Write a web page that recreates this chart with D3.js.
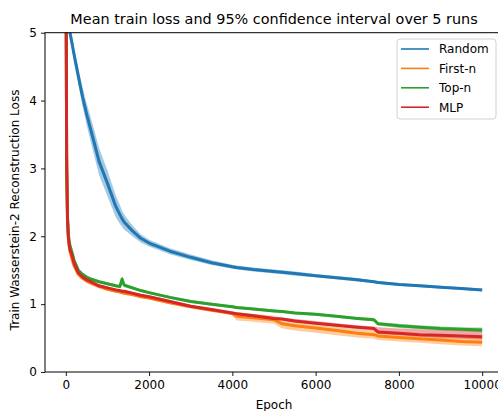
<!DOCTYPE html>
<html><head><meta charset="utf-8">
<script src="https://cdn.jsdelivr.net/npm/d3@7"></script>
<style>body{margin:0;background:#fff}svg{display:block}text{font-family:"DejaVu Sans",sans-serif;fill:#000}</style>
</head><body><svg id="c" width="498" height="411"></svg>
<script>
const epochs = [0,20,40,60,80,100,150,200,300,400,500,600,800,1000,1200,1300,1350,1400,1600,1800,2000,2500,3000,3500,4000,4100,4500,5000,5200,5500,6000,6500,7000,7400,7500,8000,8500,9000,9500,10000];
const seriesNames = ["Random","First-n","Top-n","MLP"];
const colors = ["#1f77b4","#ff7f0e","#2ca02c","#d62728"];
const randomMean = [5.35,5.3,5.23,5.15,5.07,5.0,4.84,4.67,4.36,4.06,3.8,3.57,3.1,2.78,2.44,2.32,2.26,2.21,2.08,1.97,1.9,1.78,1.69,1.61,1.55,1.54,1.51,1.48,1.47,1.45,1.42,1.39,1.36,1.33,1.32,1.29,1.27,1.25,1.23,1.21];
const randomHalf = [0.1,0.1,0.1,0.1,0.1,0.1,0.1,0.11,0.12,0.14,0.16,0.18,0.2,0.19,0.16,0.14,0.12,0.11,0.08,0.06,0.05,0.045,0.04,0.035,0.03,0.03,0.03,0.03,0.03,0.03,0.025,0.025,0.025,0.02,0.02,0.02,0.02,0.02,0.02,0.02];
const firstMean = [7.0,3.1,2.25,1.98,1.86,1.78,1.66,1.56,1.44,1.38,1.34,1.31,1.26,1.22,1.19,1.18,1.17,1.16,1.14,1.11,1.09,1.02,0.96,0.91,0.86,0.82,0.8,0.77,0.71,0.68,0.65,0.61,0.57,0.55,0.53,0.51,0.49,0.47,0.45,0.44];
const firstLow  = [7.0,3.05,2.2,1.95,1.83,1.76,1.64,1.54,1.42,1.36,1.32,1.29,1.24,1.2,1.17,1.16,1.15,1.14,1.12,1.09,1.07,1.0,0.94,0.89,0.84,0.76,0.74,0.71,0.64,0.61,0.58,0.54,0.51,0.49,0.47,0.45,0.43,0.41,0.39,0.38];
const firstHigh = [7.0,3.15,2.3,2.01,1.89,1.8,1.68,1.58,1.46,1.4,1.36,1.33,1.28,1.24,1.21,1.2,1.19,1.18,1.16,1.13,1.11,1.04,0.98,0.93,0.88,0.88,0.86,0.83,0.8,0.76,0.72,0.68,0.64,0.62,0.6,0.57,0.55,0.53,0.51,0.5];
const topMean = [7.0,3.0,2.3,2.04,1.93,1.86,1.76,1.64,1.5,1.44,1.4,1.37,1.33,1.3,1.27,1.26,1.37,1.28,1.24,1.2,1.17,1.1,1.04,1.0,0.96,0.95,0.93,0.9,0.89,0.87,0.85,0.82,0.79,0.77,0.71,0.68,0.66,0.64,0.63,0.62];
const topHalf = [0.05,0.05,0.04,0.03,0.03,0.02,0.02,0.02,0.02,0.02,0.02,0.02,0.02,0.02,0.02,0.02,0.05,0.03,0.025,0.02,0.02,0.02,0.02,0.02,0.02,0.02,0.02,0.02,0.02,0.02,0.02,0.02,0.02,0.025,0.025,0.03,0.03,0.03,0.03,0.035];
const mlpMean = [7.0,3.2,2.25,2.0,1.88,1.8,1.72,1.6,1.46,1.4,1.36,1.33,1.27,1.24,1.21,1.2,1.19,1.19,1.16,1.13,1.11,1.04,0.97,0.92,0.87,0.86,0.83,0.79,0.78,0.75,0.72,0.69,0.66,0.64,0.59,0.57,0.55,0.54,0.53,0.52];
const mlpLow  = [7.0,3.15,2.2,1.97,1.85,1.78,1.7,1.58,1.44,1.38,1.34,1.31,1.25,1.22,1.19,1.18,1.17,1.17,1.14,1.11,1.09,1.02,0.95,0.9,0.85,0.84,0.81,0.77,0.76,0.73,0.7,0.67,0.64,0.62,0.56,0.54,0.52,0.5,0.49,0.48];
const mlpHigh = [7.0,3.25,2.3,2.03,1.91,1.82,1.74,1.62,1.48,1.42,1.38,1.35,1.29,1.26,1.23,1.22,1.21,1.21,1.18,1.15,1.13,1.06,0.99,0.94,0.89,0.88,0.85,0.81,0.8,0.78,0.75,0.72,0.69,0.67,0.66,0.64,0.63,0.62,0.61,0.6];
const xTicks = [0,2000,4000,6000,8000,10000];
const yTicks = [0,1,2,3,4,5];

const svg = d3.select("#c");
const L=45, R=503, T=32.7, B=372;
const x = d3.scaleLinear().domain([-500,10500]).range([L,R]);
const y = d3.scaleLinear().domain([0,5]).range([B,T]);

const data = [
  {mean: randomMean, lo: randomMean.map((v,i)=>v-randomHalf[i]), hi: randomMean.map((v,i)=>v+randomHalf[i])},
  {mean: firstMean, lo: firstLow, hi: firstHigh},
  {mean: topMean, lo: topMean.map((v,i)=>v-topHalf[i]), hi: topMean.map((v,i)=>v+topHalf[i])},
  {mean: mlpMean, lo: mlpLow, hi: mlpHigh}
];

svg.append("clipPath").attr("id","clip").append("rect").attr("x",L).attr("y",T).attr("width",R-L).attr("height",B-T);
const g = svg.append("g").attr("clip-path","url(#clip)");
const area = d3.area().x((d,i)=>x(epochs[i])).y0(d=>y(d[0])).y1(d=>y(d[1]));
const line = d3.line().x((d,i)=>x(epochs[i])).y(d=>y(d));
data.forEach((s,k)=>{
  g.append("path").attr("d", area(s.lo.map((v,i)=>[v,s.hi[i]]))).attr("fill",colors[k]).attr("fill-opacity",0.4);
  g.append("path").attr("d", line(s.mean)).attr("fill","none").attr("stroke",colors[k]).attr("stroke-width",3).attr("stroke-linejoin","round");
});

// axes
const xa = svg.append("g").attr("transform",`translate(0,${B})`).call(d3.axisBottom(x).tickValues(xTicks).tickFormat(d3.format("d")).tickSizeOuter(0).tickSize(4).tickPadding(4));
const ya = svg.append("g").attr("transform",`translate(${L},0)`).call(d3.axisLeft(y).tickValues(yTicks).tickFormat(d3.format("d")).tickSizeOuter(0).tickSize(4).tickPadding(4));
[xa,ya].forEach(a=>{a.select(".domain").remove(); a.selectAll("text").style("font-size","12px").style("font-family","DejaVu Sans"); a.selectAll("line").attr("stroke","#000").attr("stroke-width",0.9);});
// spines
svg.append("rect").attr("x",L).attr("y",T).attr("width",R-L).attr("height",B-T).attr("fill","none").attr("stroke","#000").attr("stroke-width",1);

svg.append("text").attr("x",274).attr("y",24).attr("text-anchor","middle").style("font-size","14.4px").text("Mean train loss and 95% confidence interval over 5 runs");
svg.append("text").attr("x",274).attr("y",409).attr("text-anchor","middle").style("font-size","12px").text("Epoch");
svg.append("text").attr("transform","translate(19,210) rotate(-90)").attr("text-anchor","middle").style("font-size","12px").text("Train Wasserstein-2 Reconstruction Loss");

// legend
const lg = svg.append("g");
lg.append("rect").attr("x",397).attr("y",39).attr("width",99).attr("height",80).attr("rx",3).attr("fill","#fff").attr("fill-opacity",0.8).attr("stroke","#ccc").attr("stroke-width",0.9);
seriesNames.forEach((n,i)=>{
  const yy = 49 + i*19.4;
  lg.append("line").attr("x1",401).attr("x2",429).attr("y1",yy).attr("y2",yy).attr("stroke",colors[i]).attr("stroke-width",1.6);
  lg.append("text").attr("x",439).attr("y",yy+4.3).style("font-size","12px").text(n);
});
</script></body></html>
